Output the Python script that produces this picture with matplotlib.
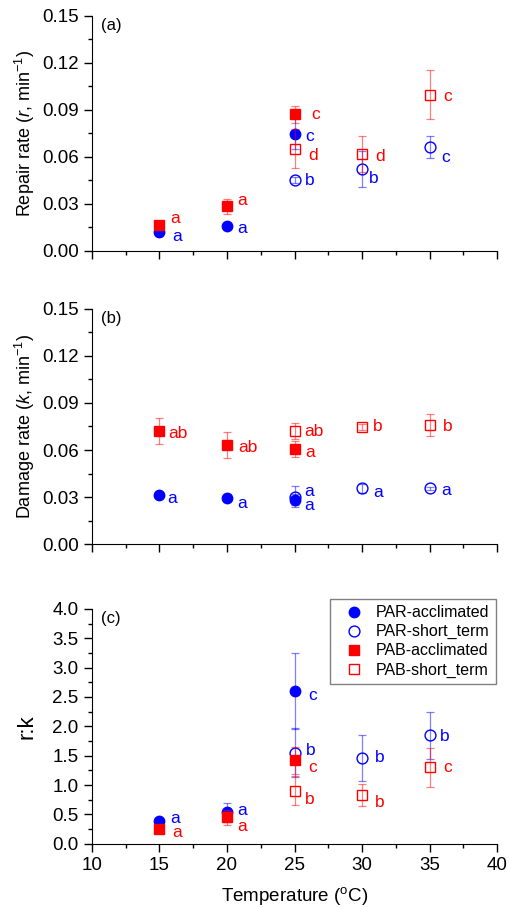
import numpy as np
import matplotlib
matplotlib.use("Agg")
import matplotlib.pyplot as plt
from matplotlib.ticker import MultipleLocator, FormatStrFormatter

plt.rcParams['font.family'] = ['Liberation Sans', 'DejaVu Sans']
plt.rcParams['mathtext.fontset'] = 'custom'
plt.rcParams['mathtext.rm'] = 'Liberation Sans'
plt.rcParams['mathtext.it'] = 'Liberation Sans:italic'

# -------------------------------
# Data
# -------------------------------
temp_acc = [15, 20, 25]
temp_short = [25, 30, 35]

# (a) repair rate r
r_par_acc = [0.0117, 0.0157, 0.0747]
r_par_acc_err = [0.002, 0.002, 0.010]
r_par_short = [0.0453, 0.0521, 0.0662]
r_par_short_err = [0.002, 0.0115, 0.007]
r_pab_acc = [0.0166, 0.0283, 0.0872]
r_pab_acc_err = [0.002, 0.005, 0.0055]
r_pab_short = [0.0653, 0.0619, 0.0998]
r_pab_short_err = [0.0127, 0.0115, 0.0157]

# (b) damage rate k
k_par_acc = [0.0314, 0.0297, 0.0282]
k_par_acc_err = [0.002, 0.002, 0.0035]
k_par_short = [0.0303, 0.0356, 0.0356]
k_par_short_err = [0.0065, 0.003, 0.001]
k_pab_acc = [0.0721, 0.0632, 0.0607]
k_pab_acc_err = [0.008, 0.008, 0.005]
k_pab_short = [0.0721, 0.0747, 0.0757]
k_pab_short_err = [0.005, 0.002, 0.007]

# (c) r:k
rk_par_acc = [0.38, 0.534, 2.60]
rk_par_acc_err = [0.04, 0.16, 0.65]
rk_par_short = [1.55, 1.46, 1.847]
rk_par_short_err = [0.42, 0.40, 0.40]
rk_pab_acc = [0.244, 0.449, 1.426]
rk_pab_acc_err = [0.04, 0.13, 0.23]
rk_pab_short = [0.903, 0.83, 1.30]
rk_pab_short_err = [0.25, 0.18, 0.33]

# significance letters (per series, same order as the points)
r_letters = [["a", "a", "c"], ["b", "b", "c"], ["a", "a", "c"], ["d", "d", "c"]]
k_letters = [["a", "a", "a"], ["a", "a", "a"], ["ab", "ab", "a"], ["ab", "b", "b"]]
rk_letters = [["a", "a", "c"], ["b", "b", "b"], ["a", "a", "c"], ["b", "b", "c"]]

# letter offsets in pixels (dx, dy)
r_offsets = [[(18, -4), (15, -2), (15, -3)], [(15, -1), (12, -9), (16, -10)],
             [(16, 6), (15, 6), (21, 0)], [(19, -7), (18, -3), (18, -2)]]
k_offsets = [[(13, -4), (15, -6), (15, -6)], [(15, 5), (16, -4), (16, -2)],
             [(19, -2), (21, -2), (16, -4)], [(19, 0), (16, 0), (18, -1)]]
rk_offsets = [[(16, 3), (15, 2), (18, -4)], [(16, 2), (18, 1), (15, -1)],
              [(18, -3), (15, -9), (18, -7)], [(15, -9), (18, -8), (18, 0)]]

labels = ["PAR-acclimated", "PAR-short_term", "PAB-acclimated", "PAB-short_term"]
blue = "#0000FF"
red = "#FF0000"


# -------------------------------
# One panel
# -------------------------------
def draw_panel(ax, series, letters, offsets):
    styles = [
        dict(marker="o", mfc=blue, color=blue, ms=7.5),
        dict(marker="o", mfc="none", color=blue, ms=7.8),
        dict(marker="s", mfc=red, color=red, ms=7.0),
        dict(marker="s", mfc="none", color=red, ms=7.0),
    ]
    xs = [temp_acc, temp_short, temp_acc, temp_short]
    for i, (y, yerr) in enumerate(series):
        st = styles[i]
        ax.errorbar(xs[i], y, yerr=yerr, fmt="none", ecolor=st["color"],
                    elinewidth=0.9, capsize=2.6, capthick=0.9, alpha=0.5)
        ax.plot(xs[i], y, linestyle="none", marker=st["marker"], ms=st["ms"],
                mfc=st["mfc"], mec=st["color"], mew=1.0, label=labels[i])
        for xv, yv, lt, off in zip(xs[i], y, letters[i], offsets[i]):
            ax.annotate(lt, (xv, yv), xytext=(off[0] * 0.72, off[1] * 0.72),
                        textcoords="offset points", ha="center", va="center",
                        color=st["color"], fontsize=12.5)

    ax.set_xlim(10, 40)
    ax.xaxis.set_major_locator(MultipleLocator(5))
    ax.xaxis.set_minor_locator(MultipleLocator(2.5))
    for s in ["top", "right"]:
        ax.spines[s].set_visible(False)
    ax.tick_params(which="major", direction="out", length=6, width=1,
                   labelsize=13.5, pad=3.5)
    ax.tick_params(which="minor", direction="out", length=3, width=1)


fig = plt.figure(figsize=(5.1, 9.07), dpi=100)
left, width = 0.180, 0.795
ax_a = fig.add_axes([left, 0.7236, width, 0.2588])
ax_b = fig.add_axes([left, 0.3999, width, 0.2598])
ax_c = fig.add_axes([left, 0.0698, width, 0.2588])

draw_panel(ax_a, [(r_par_acc, r_par_acc_err), (r_par_short, r_par_short_err),
                  (r_pab_acc, r_pab_acc_err), (r_pab_short, r_pab_short_err)],
           r_letters, r_offsets)
draw_panel(ax_b, [(k_par_acc, k_par_acc_err), (k_par_short, k_par_short_err),
                  (k_pab_acc, k_pab_acc_err), (k_pab_short, k_pab_short_err)],
           k_letters, k_offsets)
draw_panel(ax_c, [(rk_par_acc, rk_par_acc_err), (rk_par_short, rk_par_short_err),
                  (rk_pab_acc, rk_pab_acc_err), (rk_pab_short, rk_pab_short_err)],
           rk_letters, rk_offsets)

for ax in (ax_a, ax_b):
    ax.set_ylim(0, 0.15)
    ax.yaxis.set_major_locator(MultipleLocator(0.03))
    ax.yaxis.set_minor_locator(MultipleLocator(0.015))
    ax.yaxis.set_major_formatter(FormatStrFormatter("%.2f"))
    ax.tick_params(axis="x", labelbottom=False)

ax_c.set_ylim(0, 4.0)
ax_c.yaxis.set_major_locator(MultipleLocator(0.5))
ax_c.yaxis.set_minor_locator(MultipleLocator(0.25))
ax_c.yaxis.set_major_formatter(FormatStrFormatter("%.1f"))

ax_a.set_ylabel(r"Repair rate ($\it{r}$, min$^{-1}$)", fontsize=13)
ax_b.set_ylabel(r"Damage rate ($\it{k}$, min$^{-1}$)", fontsize=13)
ax_c.set_ylabel("r:k", fontsize=16)
ax_c.set_xlabel(r"Temperature ($^{\rm o}$C)", fontsize=13.5, labelpad=8)
for ax in (ax_a, ax_b, ax_c):
    ax.yaxis.set_label_coords(-0.135, 0.5)

for ax, tag in zip((ax_a, ax_b, ax_c), ["(a)", "(b)", "(c)"]):
    ax.text(0.022, 0.99, tag, transform=ax.transAxes, ha="left", va="top",
            fontsize=12)

leg = ax_c.legend(loc="upper right", bbox_to_anchor=(0.9975, 1.0426),
                  fontsize=11.5, frameon=True, fancybox=False,
                  edgecolor="#808080", framealpha=1, borderaxespad=0,
                  labelspacing=0.25, handletextpad=0.3, borderpad=0.4,
                  handlelength=2.2)
leg.get_frame().set_linewidth(1.0)

fig.savefig("out.png", dpi=100)
